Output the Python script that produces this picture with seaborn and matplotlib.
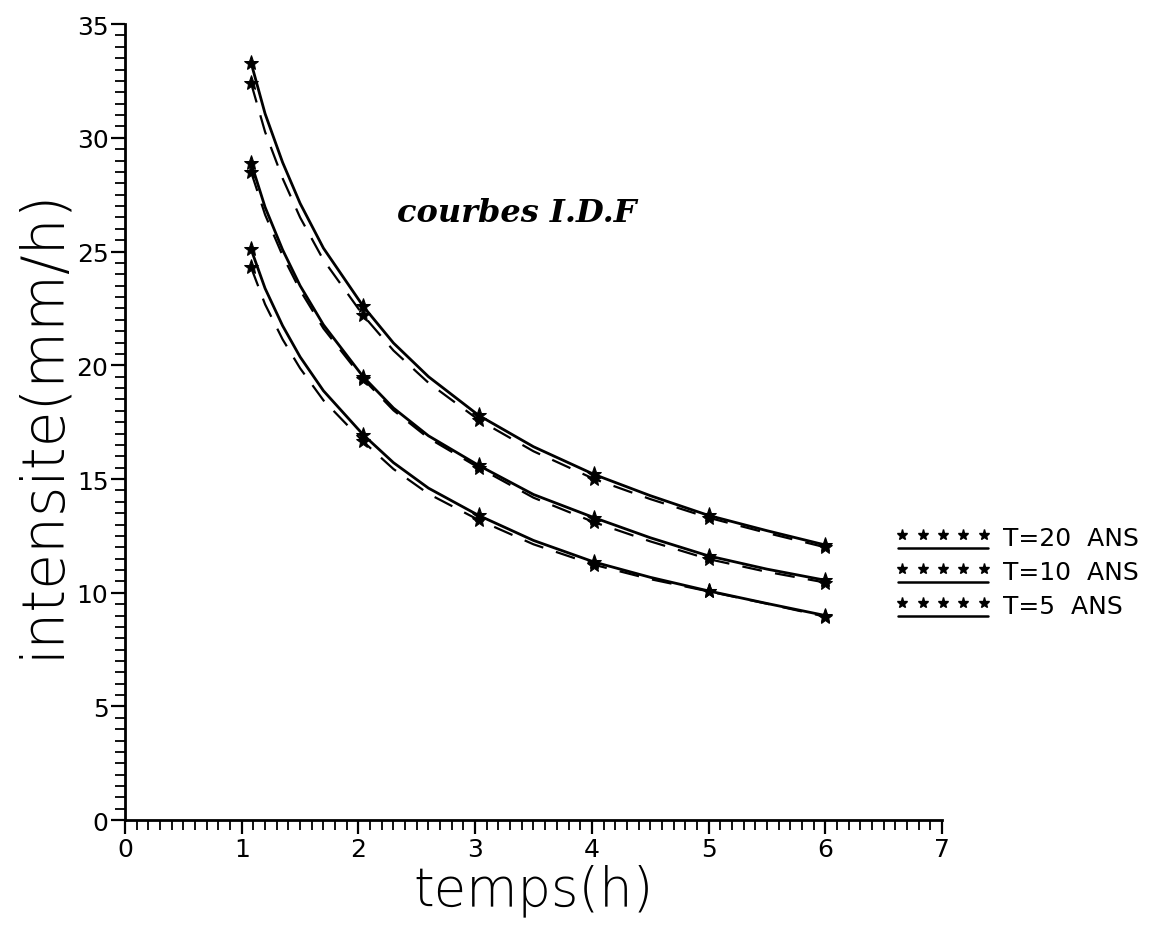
import numpy as np
import pandas as pd
import matplotlib
matplotlib.use("Agg")
import matplotlib.pyplot as plt
import seaborn as sns
from matplotlib.lines import Line2D
from matplotlib.legend_handler import HandlerBase
from matplotlib.ticker import MultipleLocator

# Durations (h) along each intensity curve
temps = [1.08, 1.2, 1.35, 1.5, 1.7, 2.04, 2.3, 2.6, 3.03, 3.5, 4.02, 4.5, 5.0, 5.5, 6.0]
# Positions in `temps` of the measured durations (marked with stars)
mesures = [0, 5, 8, 10, 12, 14]

# Intensities (mm/h): solid curve and dashed curve for each return period
t20_trait = [33.30, 31.06, 28.92, 27.12, 25.15, 22.60, 20.98, 19.50, 17.80, 16.42, 15.20, 14.27, 13.40, 12.73, 12.10]
t20_tirets = [32.40, 30.26, 28.22, 26.50, 24.63, 22.20, 20.65, 19.23, 17.60, 16.22, 15.00, 14.12, 13.30, 12.63, 12.00]
t10_trait = [28.90, 26.95, 25.08, 23.50, 21.78, 19.50, 18.12, 16.90, 15.60, 14.32, 13.30, 12.42, 11.62, 11.04, 10.55]
t10_tirets = [28.50, 26.62, 24.82, 23.30, 21.62, 19.40, 18.02, 16.80, 15.50, 14.18, 13.10, 12.26, 11.48, 10.92, 10.45]
t5_trait = [25.10, 23.38, 21.74, 20.37, 18.88, 16.95, 15.72, 14.60, 13.40, 12.30, 11.35, 10.68, 10.08, 9.53, 9.00]
t5_tirets = [24.30, 22.68, 21.14, 19.87, 18.46, 16.65, 15.44, 14.35, 13.20, 12.13, 11.23, 10.60, 10.06, 9.52, 8.95]

periodes = ["T=20  ANS", "T=10  ANS", "T=5  ANS"]
courbes = {
    "T=20  ANS": (t20_trait, t20_tirets),
    "T=10  ANS": (t10_trait, t10_tirets),
    "T=5  ANS": (t5_trait, t5_tirets),
}

rows = []
for p in periodes:
    trait, tirets = courbes[p]
    for t, v in zip(temps, trait):
        rows.append({"temps": t, "intensite": v, "periode": p, "courbe": "trait"})
    for t, v in zip(temps, tirets):
        rows.append({"temps": t, "intensite": v, "periode": p, "courbe": "tirets"})
df = pd.DataFrame(rows)

sns.set_theme(style="ticks")
plt.rcParams["font.family"] = ["DejaVu Sans"]
plt.rcParams.update({"text.color": "black", "axes.labelcolor": "black",
                     "xtick.color": "black", "ytick.color": "black"})

fig = plt.figure(figsize=(11.72, 9.29), dpi=100)
ax = fig.add_axes([0.1067, 0.116, 0.697, 0.857])

for p in periodes:
    sub = df[df["periode"] == p]
    sns.lineplot(data=sub[sub["courbe"] == "trait"], x="temps", y="intensite",
                 ax=ax, color="black", linewidth=2.0, marker="*", markersize=11,
                 markevery=mesures, markeredgecolor="black", estimator=None)
    sns.lineplot(data=sub[sub["courbe"] == "tirets"], x="temps", y="intensite",
                 ax=ax, color="black", linewidth=1.6, linestyle=(0, (9, 6)),
                 marker="*", markersize=11, markevery=mesures,
                 markeredgecolor="black", estimator=None)

ax.set_xlim(0, 7)
ax.set_ylim(0, 35)
ax.xaxis.set_major_locator(MultipleLocator(1))
ax.xaxis.set_minor_locator(MultipleLocator(0.1))
ax.yaxis.set_major_locator(MultipleLocator(5))
ax.yaxis.set_minor_locator(MultipleLocator(0.5))
ax.tick_params(axis="both", which="major", direction="out", length=10, width=1.6,
               labelsize=18, pad=2)
ax.tick_params(axis="both", which="minor", direction="out", length=7, width=1.3)
for s in ("top", "right"):
    ax.spines[s].set_visible(False)
for s in ("left", "bottom"):
    ax.spines[s].set_linewidth(2.0)
    ax.spines[s].set_color("black")

ax.set_xlabel("temps(h)", fontsize=38, fontweight="light", labelpad=2)
ax.set_ylabel("intensite(mm/h)", fontsize=42, fontweight="light", labelpad=4)

ax.text(0.48, 0.763, "courbes I.D.F", transform=ax.transAxes, ha="center",
        va="center", fontsize=23, fontweight="bold", fontstyle="italic",
        family="DejaVu Serif")


class EtoilesSurTrait(HandlerBase):
    def create_artists(self, legend, orig_handle, xdescent, ydescent,
                       width, height, fontsize, trans):
        xs = np.linspace(-xdescent + 3, width - xdescent - 3, 5)
        y_star = -ydescent + height * 0.6
        y_line = -ydescent - height * 0.15
        stars = Line2D(xs, [y_star] * 5, linestyle="none", marker="*",
                       markersize=8, color="black")
        line = Line2D([xs[0] - 3, xs[-1] + 3], [y_line] * 2, linewidth=1.8,
                      color="black")
        stars.set_transform(trans)
        line.set_transform(trans)
        return [stars, line]


handles = [Line2D([], [], color="black") for _ in periodes]
fig.legend(handles, periodes, loc="center left",
           bbox_to_anchor=(898 / 1172, 1 - 573 / 929), frameon=False,
           fontsize=18, handlelength=3.6, handletextpad=0.6, labelspacing=0.4,
           borderpad=0, borderaxespad=0,
           handler_map={Line2D: EtoilesSurTrait()})

fig.savefig("out.png", dpi=100, facecolor="white")
